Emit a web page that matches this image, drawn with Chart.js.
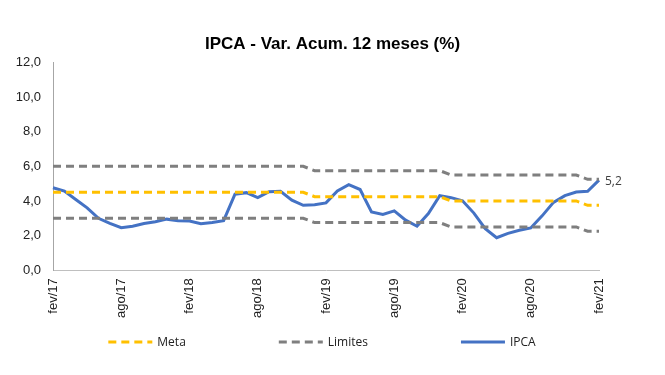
<!DOCTYPE html>
<html>
<head>
<meta charset="utf-8">
<script src="https://cdn.jsdelivr.net/npm/chart.js@4"></script>
<style>
  body { margin: 0; background: #fff; }
  #wrap { width: 665px; height: 375px; position: relative; }
</style>
</head>
<body>
<div id="wrap"><canvas id="ch_ipca"></canvas></div>
<script>
// Monthly categories fev/17 .. fev/21
const months = [
  'fev/17','mar/17','abr/17','mai/17','jun/17','jul/17','ago/17','set/17','out/17','nov/17','dez/17',
  'jan/18','fev/18','mar/18','abr/18','mai/18','jun/18','jul/18','ago/18','set/18','out/18','nov/18','dez/18',
  'jan/19','fev/19','mar/19','abr/19','mai/19','jun/19','jul/19','ago/19','set/19','out/19','nov/19','dez/19',
  'jan/20','fev/20','mar/20','abr/20','mai/20','jun/20','jul/20','ago/20','set/20','out/20','nov/20','dez/20',
  'jan/21','fev/21'
];

const ipca = [
  4.76, 4.57, 4.08, 3.60, 3.00, 2.71, 2.46, 2.54, 2.70, 2.80, 2.95,
  2.86, 2.84, 2.68, 2.76, 2.86, 4.39, 4.48, 4.19, 4.53, 4.56, 4.05, 3.75,
  3.78, 3.89, 4.58, 4.94, 4.66, 3.37, 3.22, 3.43, 2.89, 2.54, 3.27, 4.31,
  4.19, 4.01, 3.30, 2.40, 1.88, 2.13, 2.31, 2.44, 3.14, 3.92, 4.31, 4.52,
  4.56, 5.20
];

const meta = [
  4.5, 4.5, 4.5, 4.5, 4.5, 4.5, 4.5, 4.5, 4.5, 4.5, 4.5,
  4.5, 4.5, 4.5, 4.5, 4.5, 4.5, 4.5, 4.5, 4.5, 4.5, 4.5, 4.5,
  4.25, 4.25, 4.25, 4.25, 4.25, 4.25, 4.25, 4.25, 4.25, 4.25, 4.25, 4.25,
  4.0, 4.0, 4.0, 4.0, 4.0, 4.0, 4.0, 4.0, 4.0, 4.0, 4.0, 4.0,
  3.75, 3.75
];

const limSup = [
  6.0, 6.0, 6.0, 6.0, 6.0, 6.0, 6.0, 6.0, 6.0, 6.0, 6.0,
  6.0, 6.0, 6.0, 6.0, 6.0, 6.0, 6.0, 6.0, 6.0, 6.0, 6.0, 6.0,
  5.75, 5.75, 5.75, 5.75, 5.75, 5.75, 5.75, 5.75, 5.75, 5.75, 5.75, 5.75,
  5.5, 5.5, 5.5, 5.5, 5.5, 5.5, 5.5, 5.5, 5.5, 5.5, 5.5, 5.5,
  5.25, 5.25
];

const limInf = [
  3.0, 3.0, 3.0, 3.0, 3.0, 3.0, 3.0, 3.0, 3.0, 3.0, 3.0,
  3.0, 3.0, 3.0, 3.0, 3.0, 3.0, 3.0, 3.0, 3.0, 3.0, 3.0, 3.0,
  2.75, 2.75, 2.75, 2.75, 2.75, 2.75, 2.75, 2.75, 2.75, 2.75, 2.75, 2.75,
  2.5, 2.5, 2.5, 2.5, 2.5, 2.5, 2.5, 2.5, 2.5, 2.5, 2.5, 2.5,
  2.25, 2.25
];

const YELLOW = '#FFC000', GREY = '#7F7F7F', BLUE = '#4472C4';
const fmtBR = v => v.toFixed(1).replace('.', ',');

// label on the last IPCA point
const lastLabel = {
  id: 'lastLabel',
  afterDatasetsDraw(chart) {
    const meta = chart.getDatasetMeta(3);
    const pt = meta.data[meta.data.length - 1];
    const ctx = chart.ctx;
    ctx.save();
    ctx.font = '12px "Open Sans", sans-serif';
    ctx.fillStyle = '#404040';
    ctx.textBaseline = 'middle';
    ctx.fillText(fmtBR(ipca[ipca.length - 1]), pt.x + 6, pt.y + 1);
    ctx.restore();
  }
};

// wide-spaced legend row under the axis (Excel style)
const wideLegend = {
  id: 'wideLegend',
  afterDraw(chart, args, opts) {
    const ctx = chart.ctx;
    const items = chart.data.datasets.filter(d => !d.hideInLegend);
    ctx.save();
    ctx.font = opts.font;
    const lineW = 44, textGap = 5;
    const widths = items.map(d => lineW + textGap + ctx.measureText(d.label).width);
    const total = widths.reduce((s, w) => s + w, 0) + opts.gap * (items.length - 1);
    let x = opts.centerX - total / 2;
    const y = opts.y;
    items.forEach((d, i) => {
      ctx.strokeStyle = d.borderColor;
      ctx.lineWidth = d.borderWidth;
      ctx.setLineDash(d.borderDash || []);
      ctx.beginPath();
      ctx.moveTo(x, y);
      ctx.lineTo(x + lineW, y);
      ctx.stroke();
      ctx.setLineDash([]);
      ctx.fillStyle = '#222';
      ctx.textBaseline = 'middle';
      ctx.fillText(d.label, x + lineW + textGap, y + 1);
      x += widths[i] + opts.gap;
    });
    ctx.restore();
  }
};

const line = (label, data, color, dash, hide) => ({
  label, data,
  borderColor: color,
  backgroundColor: color,
  borderWidth: 3,
  borderDash: dash,
  pointRadius: 0,
  tension: 0,
  fill: false,
  hideInLegend: !!hide,
  yAxisID: 'y'
});

new Chart(document.getElementById('ch_ipca'), {
  type: 'line',
  data: {
    labels: months,
    datasets: [
      line('Meta', meta, YELLOW, [8, 5]),
      line('Limites', limSup, GREY, [8, 5]),
      line('Limites', limInf, GREY, [8, 5], true),
      line('IPCA', ipca, BLUE, [])
    ]
  },
  options: {
    responsive: true,
    maintainAspectRatio: false,
    animation: false,
    layout: { padding: { left: 0, right: 0, top: 0, bottom: 57 } },
    scales: {
      x: {
        grid: { display: false },
        border: { display: true, color: '#BFBFBF', width: 1 },
        ticks: {
          autoSkip: false,
          minRotation: 90, maxRotation: 90,
          padding: 0,
          color: '#222',
          font: { family: '"Liberation Sans", Arial, sans-serif', size: 13 },
          callback: (v, i) => (i % 6 === 0 ? months[i] : '')
        }
      },
      y: {
        min: 0, max: 12,
        afterFit: s => { s.width = 53; },
        grid: { display: false },
        border: { display: true, color: '#A6A6A6', width: 1 },
        ticks: {
          stepSize: 2,
          padding: 4,
          color: '#222',
          font: { family: '"Liberation Sans", Arial, sans-serif', size: 13 },
          callback: v => fmtBR(v)
        }
      },
      // empty right axis only to keep the gap on the right side
      y2: {
        position: 'right',
        afterFit: s => { s.width = 66; },
        grid: { display: false },
        border: { display: false },
        ticks: { display: false }
      }
    },
    plugins: {
      title: {
        display: true,
        text: 'IPCA - Var. Acum. 12 meses (%)',
        color: '#000',
        font: { family: '"Liberation Sans", Arial, sans-serif', size: 17, weight: 'bold' },
        padding: { top: 34, bottom: 8 }
      },
      legend: { display: false },
      wideLegend: { font: '12px "Open Sans", sans-serif', gap: 93, centerX: 322, y: 342 },
      tooltip: { enabled: false }
    }
  },
  plugins: [lastLabel, wideLegend]
});
</script>
</body>
</html>
